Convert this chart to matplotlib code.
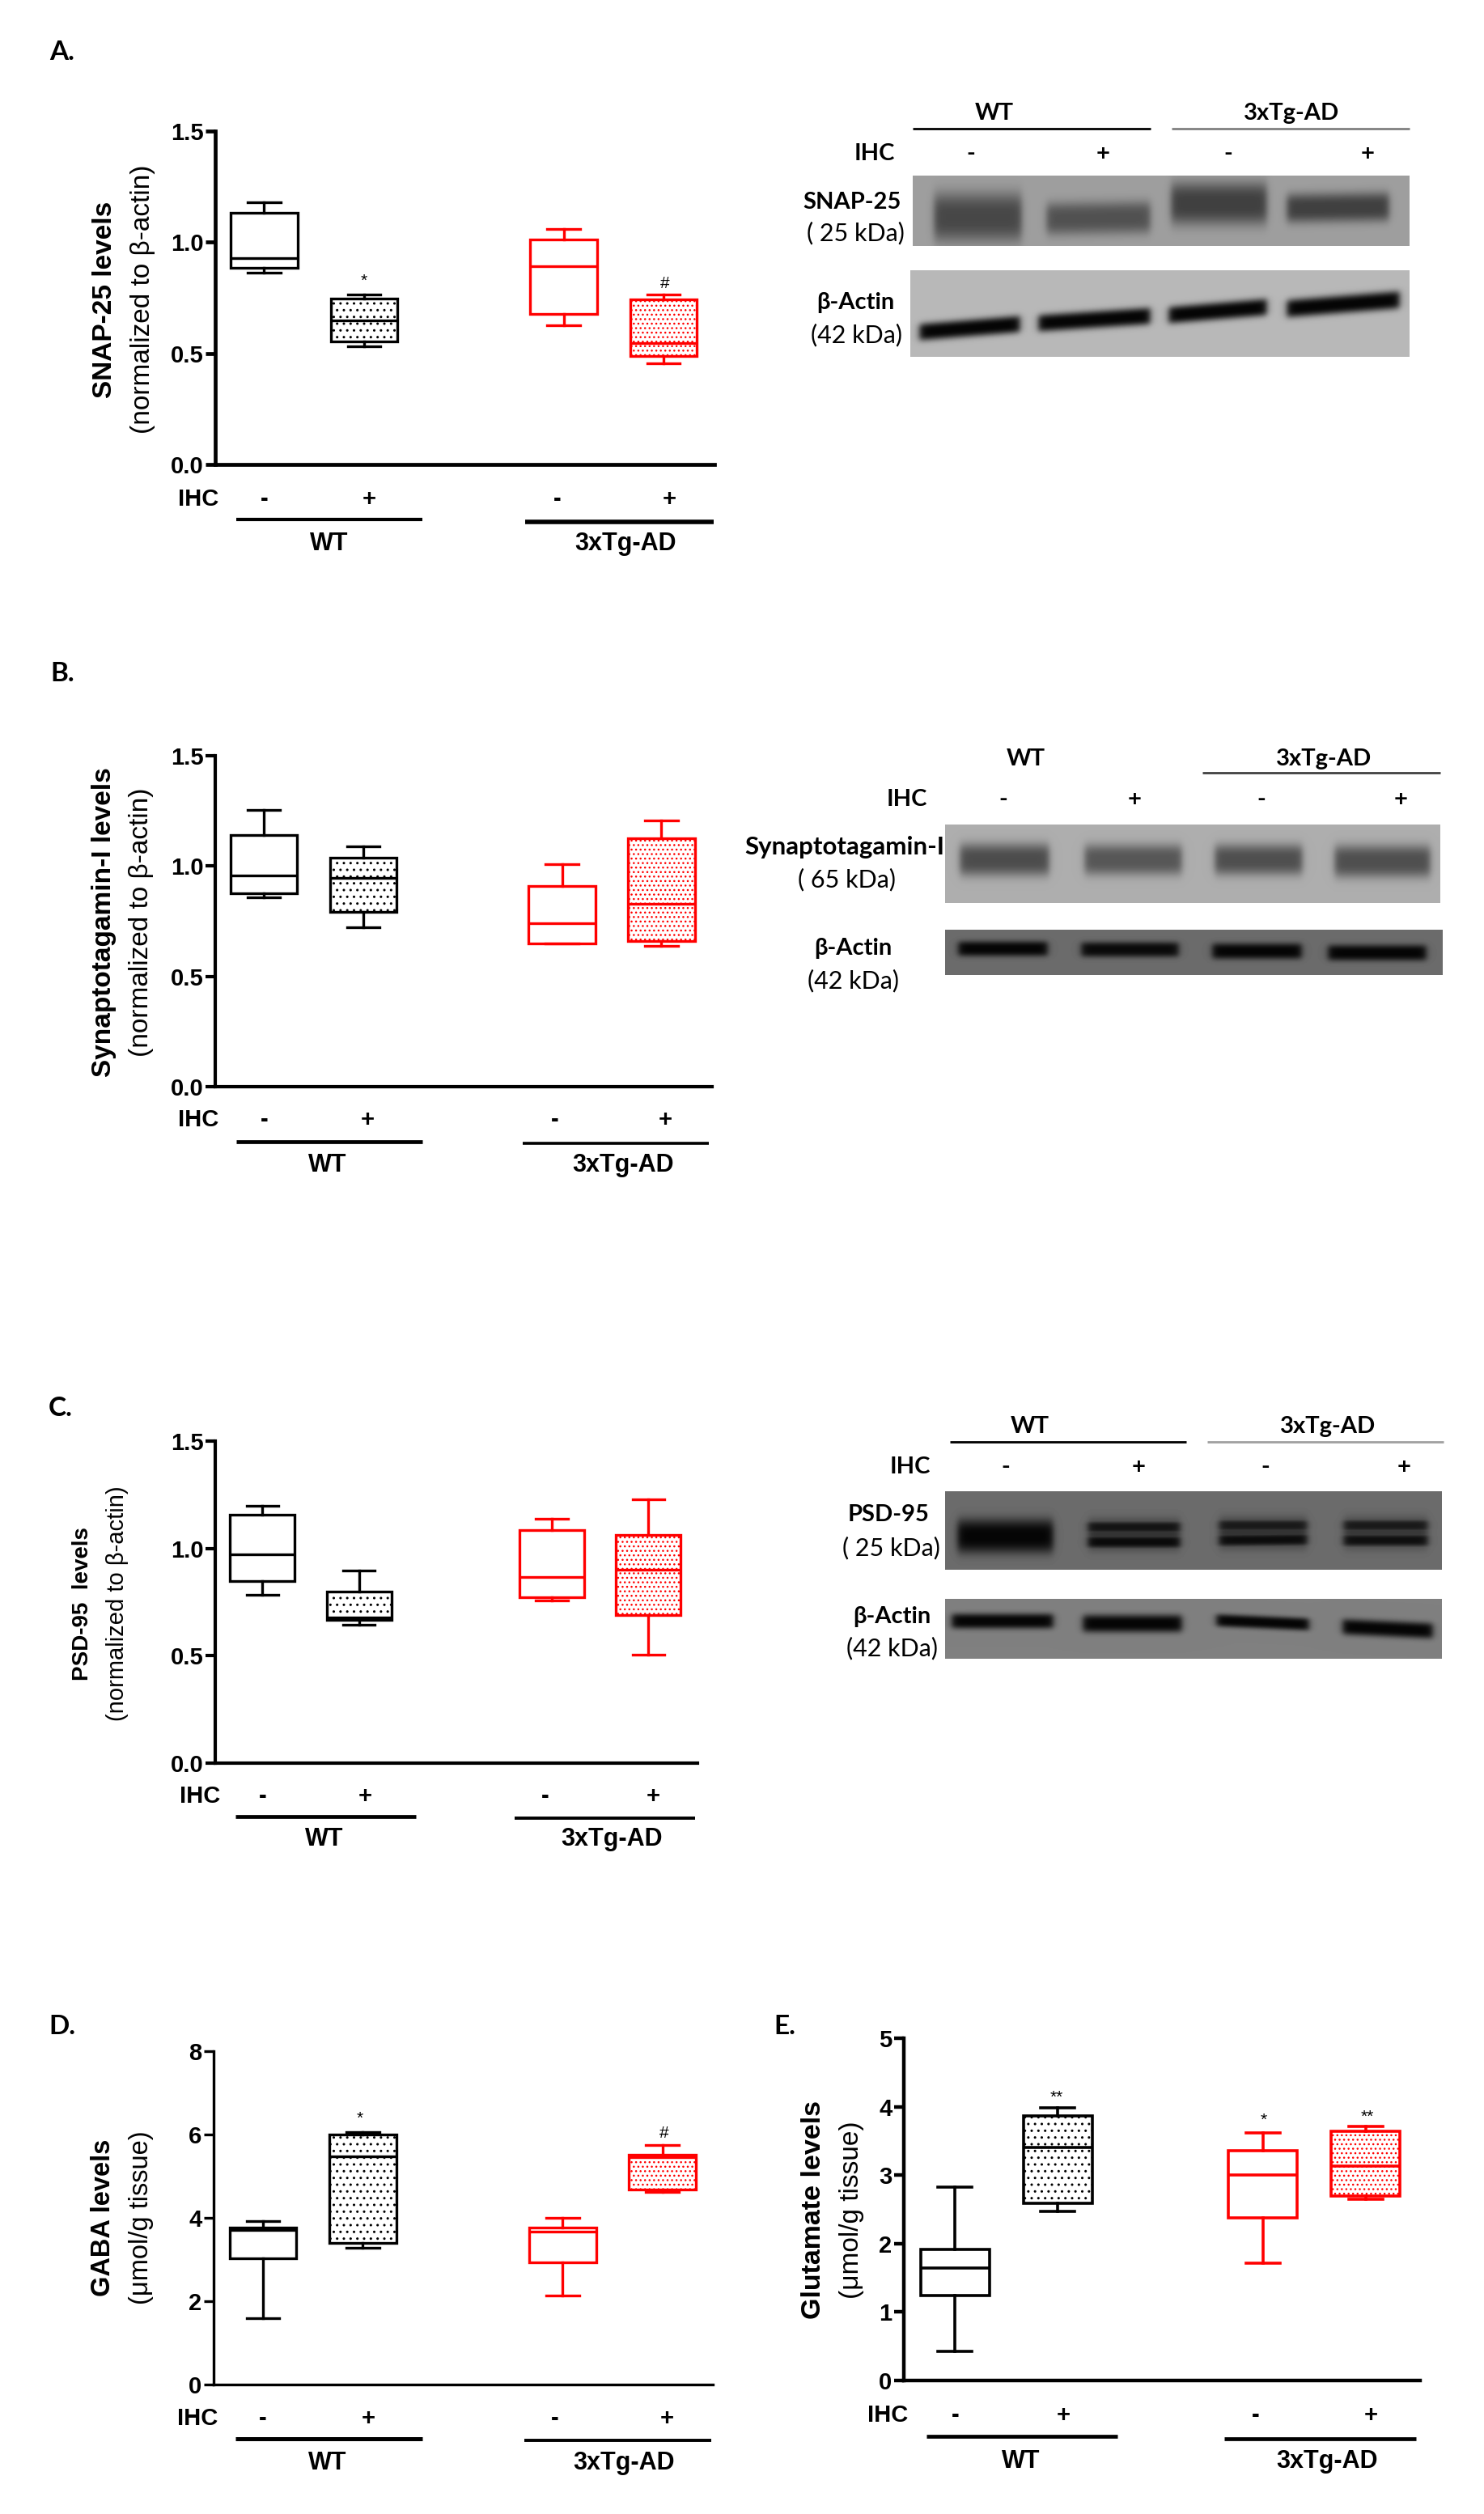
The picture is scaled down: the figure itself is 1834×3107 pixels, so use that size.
import numpy as np
import matplotlib
matplotlib.use('Agg')
import matplotlib.pyplot as plt

W, H = 1834, 3107
plt.rcParams['font.family'] = ['Liberation Sans', 'DejaVu Sans']

positions = [1, 2, 4, 5]
colors = ['black', 'black', 'red', 'red']

# whisker low, q1, median, q3, whisker high for WT-, WT+, AD-, AD+
A_lo = [0.864, 0.532, 0.627, 0.455]
A_q1 = [0.885, 0.553, 0.678, 0.487]
A_med = [0.93, 0.648, 0.893, 0.545]
A_q3 = [1.133, 0.745, 1.011, 0.744]
A_hi = [1.18, 0.763, 1.058, 0.763]

B_lo = [0.86, 0.724, 0.648, 0.639]
B_q1 = [0.876, 0.791, 0.648, 0.661]
B_med = [0.959, 0.947, 0.739, 0.828]
B_q3 = [1.139, 1.037, 0.908, 1.126]
B_hi = [1.256, 1.091, 1.01, 1.205]

C_lo = [0.783, 0.646, 0.757, 0.505]
C_q1 = [0.848, 0.666, 0.772, 0.69]
C_med = [0.974, 0.678, 0.866, 0.899]
C_q3 = [1.157, 0.798, 1.085, 1.063]
C_hi = [1.20, 0.896, 1.138, 1.23]

D_lo = [1.60, 3.29, 2.13, 4.62]
D_q1 = [3.02, 3.39, 2.94, 4.67]
D_med = [3.71, 5.48, 3.67, 5.45]
D_q3 = [3.77, 6.0, 3.77, 5.52]
D_hi = [3.93, 6.05, 4.0, 5.74]

E_lo = [0.43, 2.47, 1.71, 2.65]
E_q1 = [1.24, 2.59, 2.38, 2.69]
E_med = [1.64, 3.40, 3.0, 3.13]
E_q3 = [1.91, 3.87, 3.36, 3.64]
E_hi = [2.83, 3.98, 3.62, 3.71]

ticks_15 = [0.0, 0.5, 1.0, 1.5]
ticks_8 = [0, 2, 4, 6, 8]
ticks_5 = [0, 1, 2, 3, 4, 5]

# blot bands: x left, x right, y left, y right, thickness, grey level
snap_bands = [(1154, 1262, 268, 268, 58, 0.28), (1293, 1421, 270, 268, 38, 0.32),
              (1447, 1565, 251, 251, 50, 0.25), (1590, 1716, 257, 255, 34, 0.25)]
actin_a_bands = [(1136, 1260, 410, 400, 20, 0.02), (1283, 1421, 399, 390, 20, 0.02),
                 (1444, 1565, 389, 379, 20, 0.02), (1590, 1729, 381, 370, 21, 0.02)]
syt_bands = [(1186, 1296, 1062, 1062, 38, 0.30), (1340, 1460, 1062, 1062, 36, 0.34),
             (1501, 1609, 1062, 1062, 36, 0.31), (1649, 1767, 1064, 1064, 38, 0.31)]
actin_b_bands = [(1184, 1294, 1172, 1172, 17, 0.02), (1336, 1456, 1173, 1173, 17, 0.04),
                 (1498, 1608, 1175, 1175, 18, 0.02), (1641, 1762, 1177, 1177, 18, 0.02)]
psd_bands = [(1183, 1301, 1898, 1898, 40, 0.02), (1344, 1458, 1887, 1887, 13, 0.08),
             (1344, 1458, 1905, 1905, 14, 0.04), (1344, 1458, 1896, 1896, 36, 0.20),
             (1506, 1615, 1885, 1885, 13, 0.10), (1506, 1615, 1903, 1902, 14, 0.05),
             (1506, 1615, 1894, 1894, 36, 0.20), (1660, 1764, 1885, 1885, 13, 0.10),
             (1660, 1764, 1903, 1903, 14, 0.06), (1660, 1764, 1894, 1894, 36, 0.22)]
actin_c_bands = [(1176, 1301, 2003, 2003, 17, 0.02), (1338, 1460, 2006, 2006, 20, 0.02),
                 (1503, 1617, 2002, 2007, 14, 0.02), (1659, 1770, 2010, 2015, 18, 0.02)]


def add_panel(rect, xlim, ylim, ticks, lo, q1, med, q3, hi, fmt, axlw=3.0, lw=2.4):
    x0, y0, x1, y1 = rect
    ax = fig.add_axes([x0 / W, 1 - y1 / H, (x1 - x0) / W, (y1 - y0) / H])
    for i, pos in enumerate(positions):
        stats = [dict(whislo=lo[i], q1=q1[i], med=med[i], q3=q3[i], whishi=hi[i], fliers=[])]
        c = colors[i]
        line = dict(color=c, linewidth=lw)
        art = ax.bxp(stats, positions=[pos], widths=0.67, capwidths=0.33, patch_artist=True,
                     showfliers=False, manage_ticks=False,
                     boxprops=dict(facecolor='white', edgecolor=c, linewidth=lw),
                     medianprops=line, whiskerprops=line, capprops=line)
        if hatches[i]:
            art['boxes'][0].set_hatch(hatches[i])
    ax.set_xlim(*xlim)
    ax.set_ylim(*ylim)
    ax.set_yticks(ticks)
    ax.set_yticklabels([fmt % t for t in ticks], fontsize=21, fontweight='bold')
    ax.set_xticks([])
    ax.tick_params(axis='y', length=8.5, width=axlw, pad=2)
    for s in ['top', 'right']:
        ax.spines[s].set_visible(False)
    for s in ['left', 'bottom']:
        ax.spines[s].set_linewidth(axlw)
    return ax


def put(x, y, s, size=20, weight='normal', family=None, rotation=0):
    kw = {}
    if family:
        kw['family'] = family
    top.text(x, y, s, fontsize=size, fontweight=weight, rotation=rotation,
             ha='center', va='center', **kw)


def hline(x0, x1, y, lw=3.0, color='black'):
    top.plot([x0, x1], [y, y], color=color, lw=lw, solid_capstyle='butt')


def ihc_row(ihc_x, y, xs, wt_line, ad_line, wt_x, ad_x, lab_y, lw_wt=3.0, lw_ad=3.0):
    put(ihc_x, y, 'IHC', 21, 'bold')
    for x, s in zip(xs, ['-', '+', '-', '+']):
        put(x, y, s, 21, 'bold')
    hline(wt_line[0], wt_line[1], wt_line[2], lw_wt)
    hline(ad_line[0], ad_line[1], ad_line[2], lw_ad)
    put(wt_x, lab_y, 'WT', 22, 'bold')
    put(ad_x, lab_y, '3xTg-AD', 22, 'bold')


def blot(x0, x1, y0, y1, bg, bands):
    X, Y = np.meshgrid(np.arange(x0, x1), np.arange(y0, y1))
    img = np.full(X.shape, float(bg))
    for xl, xr, yl, yr, thick, level in bands:
        yc = yl + (yr - yl) * (X - xl) / (xr - xl)
        px = 0.5 * (np.tanh((X - xl) / 5) - np.tanh((X - xr) / 5))
        py = np.exp(-np.abs((Y - yc) / (thick / 2 + 1)) ** 3)
        img = np.minimum(img, bg + (level - bg) * px * py)
    top.imshow(img, cmap='gray', vmin=0, vmax=1, extent=[x0, x1, y1, y0], aspect='auto', zorder=1)


def blot_text(x, y, s, size=22, weight='normal'):
    put(x, y + 2, s, size, weight, family=['Lato', 'DejaVu Sans'])


fig = plt.figure(figsize=(W / 100, H / 100), dpi=100, facecolor='white')

hatches = [None, '..', None, '...']
add_panel((266, 162, 883, 574), (0.51, 5.51), (0, 1.5), ticks_15, A_lo, A_q1, A_med, A_q3, A_hi, '%.1f', axlw=3.4)
add_panel((266, 934, 880, 1343), (0.51, 5.51), (0, 1.5), ticks_15, B_lo, B_q1, B_med, B_q3, B_hi, '%.1f', axlw=3.0)
add_panel((266, 1781, 862, 2179), (0.51, 5.51), (0, 1.5), ticks_15, C_lo, C_q1, C_med, C_q3, C_hi, '%.1f', axlw=3.0)
add_panel((264, 2535, 881, 2947), (0.505, 5.505), (0, 8), ticks_8, D_lo, D_q1, D_med, D_q3, D_hi, '%d', axlw=2.4)
add_panel((1117, 2519, 1755, 2942), (0.5, 5.53), (0, 5), ticks_5, E_lo, E_q1, E_med, E_q3, E_hi, '%d', axlw=3.2, lw=2.6)

# everything outside the plot areas goes on one pixel-sized overlay
top = fig.add_axes([0, 0, 1, 1], facecolor='none')
top.set_axis_off()

for x, y, s in [(77, 65, 'A.'), (77, 832, 'B.'), (75, 1740, 'C.'), (77, 2505, 'D.'), (970, 2505, 'E.')]:
    put(x, y, s, 24, 'bold', family=['Lato', 'DejaVu Sans'])

# y axis titles
put(129, 370, 'SNAP-25 levels', 24, 'bold', rotation=90)
put(177, 370, '(normalized to β-actin)', 24, rotation=90)
put(129, 1140, 'Synaptotagamin-I levels', 24, 'bold', rotation=90)
put(175, 1140, '(normalized to β-actin)', 24, rotation=90)
put(102, 1982, 'PSD-95  levels', 20, 'bold', rotation=90)
put(145, 1982, '(normalized to β-actin)', 21, rotation=90)
put(127, 2741, 'GABA levels', 23.5, 'bold', rotation=90)
put(174, 2741, '(μmol/g tissue)', 23.5, rotation=90)
put(1005, 2731, 'Glutamate levels', 24.5, 'bold', rotation=90)
put(1052, 2731, '(μmol/g tissue)', 24, rotation=90)

# group rows under the box plots
ihc_row(245, 617, [327, 456, 689, 827], (292, 522, 642), (649, 882, 645), 407, 773, 672, 3.0, 4.0)
ihc_row(245, 1384, [327, 454, 686, 822], (292, 522, 1411), (646, 876, 1413), 405, 770, 1440, 3.4, 2.6)
ihc_row(247, 2220, [325, 451, 674, 807], (291, 514, 2245), (636, 859, 2247), 401, 756, 2273, 3.4, 2.8)
ihc_row(244, 2989, [325, 455, 686, 824], (291, 522, 3014), (648, 879, 3016), 405, 771, 3044, 3.6, 2.8)
ihc_row(1097, 2985, [1181, 1314, 1552, 1694], (1145, 1381, 3011), (1513, 1750, 3014), 1262, 1640, 3042, 3.4, 3.4)

# significance marks
for x, y, s in [(450, 347, '*'), (822, 350, '#'), (445, 2618, '*'), (821, 2636, '#'),
                (1306, 2592, '**'), (1562, 2620, '*'), (1690, 2616, '**')]:
    put(x, y, s, 15)

# panel A blots
hline(1128, 1422, 159, 2.0)
hline(1448, 1742, 159, 2.0, '#808080')
blot_text(1229, 138, 'WT', 21, 'bold')
blot_text(1596, 138, '3xTg-AD', 21, 'bold')
blot_text(1081, 188, 'IHC', 21, 'bold')
for x, s in zip([1200, 1363, 1518, 1690], ['-', '+', '-', '+']):
    blot_text(x, 188, s, 21, 'bold')
blot(1128, 1742, 217, 304, 0.62, snap_bands)
blot(1125, 1742, 334, 441, 0.72, actin_a_bands)
blot_text(1053, 248, 'SNAP-25', 21, 'bold')
blot_text(1057, 286, '( 25 kDa)')
blot_text(1057, 372, 'β-Actin', 21, 'bold')
blot_text(1058, 412, '(42 kDa)')

# panel B blots
hline(1486, 1780, 955, 2.0, '#404040')
blot_text(1268, 936, 'WT', 21, 'bold')
blot_text(1636, 936, '3xTg-AD', 21, 'bold')
blot_text(1121, 986, 'IHC', 21, 'bold')
for x, s in zip([1240, 1402, 1559, 1731], ['-', '+', '-', '+']):
    blot_text(x, 986, s, 21, 'bold')
blot(1168, 1780, 1019, 1116, 0.68, syt_bands)
blot(1168, 1783, 1149, 1205, 0.42, actin_b_bands)
blot_text(1044, 1045, 'Synaptotagamin-I', 22.5, 'bold')
blot_text(1047, 1085, '( 65 kDa)')
blot_text(1054, 1170, 'β-Actin', 21, 'bold')
blot_text(1054, 1210, '(42 kDa)')

# panel C blots
hline(1174, 1466, 1782, 2.0)
hline(1492, 1784, 1782, 2.0, '#a0a0a0')
blot_text(1273, 1761, 'WT', 21, 'bold')
blot_text(1641, 1761, '3xTg-AD', 21, 'bold')
blot_text(1125, 1811, 'IHC', 21, 'bold')
for x, s in zip([1243, 1407, 1564, 1735], ['-', '+', '-', '+']):
    blot_text(x, 1811, s, 21, 'bold')
blot(1168, 1782, 1843, 1940, 0.42, psd_bands)
blot(1168, 1782, 1976, 2050, 0.50, actin_c_bands)
blot_text(1098, 1870, 'PSD-95', 21, 'bold')
blot_text(1101, 1911, '( 25 kDa)')
blot_text(1102, 1996, 'β-Actin', 21, 'bold')
blot_text(1102, 2035, '(42 kDa)')

top.set_xlim(0, W)
top.set_ylim(H, 0)

fig.savefig('out.png', dpi=100)
